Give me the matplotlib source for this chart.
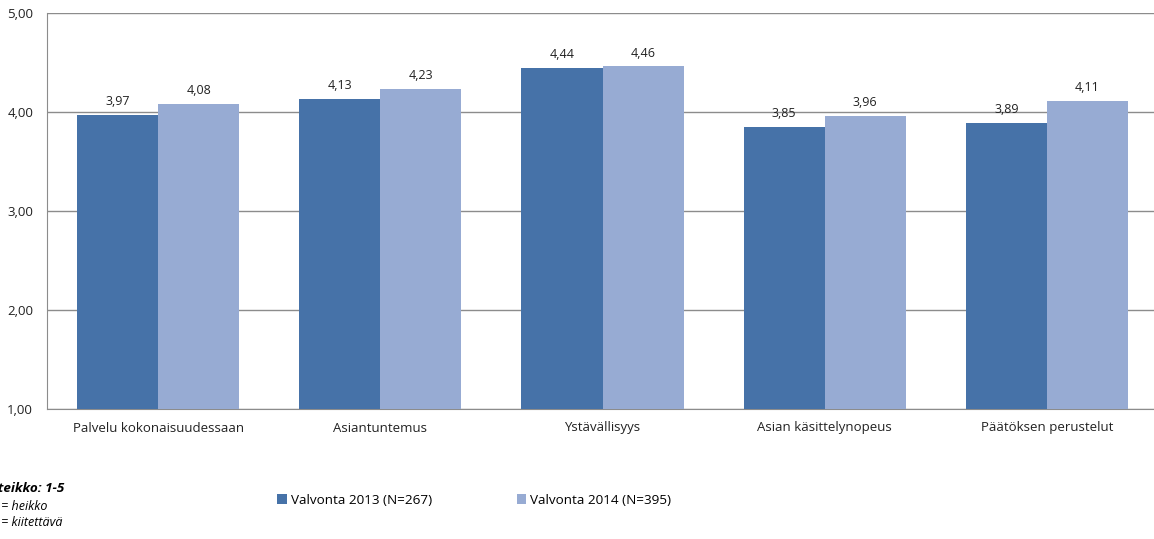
import matplotlib.pyplot as plt
import numpy as np

categories = ['Palvelu kokonaisuudessaan', 'Asiantuntemus', 'Ystävällisyys',
              'Asian käsittelynopeus', 'Päätöksen perustelut']
vals_2013 = [3.97, 4.13, 4.44, 3.85, 3.89]
vals_2014 = [4.08, 4.23, 4.46, 3.96, 4.11]
series_names = ['Valvonta 2013 (N=267)', 'Valvonta 2014 (N=395)']
yticks = [1, 2, 3, 4, 5]

plt.rcParams['font.family'] = ['Open Sans', 'DejaVu Sans']

fig = plt.figure(figsize=(11.54, 5.39), dpi=100)
W, H = 1154, 539
# axes spans past the right edge like the original crop
ax = fig.add_axes([47 / W, 1 - 409 / H, (1158 - 47) / W, (409 - 13) / H])

x = np.arange(len(categories))
bw = 0.365
c13, c14 = '#4672A8', '#97ABD3'
b1 = ax.bar(x - bw / 2, np.array(vals_2013) - 1, bw, bottom=1, color=c13, zorder=3)
b2 = ax.bar(x + bw / 2, np.array(vals_2014) - 1, bw, bottom=1, color=c14, zorder=3)

for bars, vals in ((b1, vals_2013), (b2, vals_2014)):
    for r, v in zip(bars, vals):
        ax.annotate(f'{v:.2f}'.replace('.', ','), (r.get_x() + r.get_width() / 2, v),
                    xytext=(0, 5), textcoords='offset points', ha='center', va='bottom',
                    fontsize=9, color='#222222')

ax.set_xlim(-0.5, len(categories) - 0.5)
ax.set_ylim(1, 5)
ax.set_yticks(yticks)
ax.set_yticklabels([f'{t:.2f}'.replace('.', ',') for t in yticks])
ax.set_xticks(x)
ax.set_xticklabels(categories)
ax.tick_params(axis='both', length=0, labelsize=9.5, colors='#222222')
ax.tick_params(axis='y', pad=10)
ax.tick_params(axis='x', pad=9)
ax.yaxis.grid(True, color='#8c8c8c', linewidth=1, zorder=0)
for s in ('top', 'right'):
    ax.spines[s].set_visible(False)
ax.spines['left'].set_color('#8c8c8c')
ax.spines['bottom'].set_color('#8c8c8c')

# legend
fig.legend([b1, b2], series_names, loc='center left', bbox_to_anchor=(265 / W, 1 - 500 / H),
           ncol=2, frameon=False, fontsize=9.7, handlelength=0.7, handleheight=0.7,
           handletextpad=0.3, columnspacing=6.3)

# scale note, cut at the left edge
fig.text(-16 / W, 1 - 489 / H, 'Asteikko: 1-5', fontsize=9.7, fontstyle='italic',
         fontweight='bold', va='center', ha='left')
fig.text(-9 / W, 1 - 506 / H, '1 = heikko', fontsize=9, fontstyle='italic', va='center', ha='left')
fig.text(-9 / W, 1 - 522 / H, '5 = kiitettävä', fontsize=9, fontstyle='italic', va='center', ha='left')

fig.savefig('out.png', dpi=100)
